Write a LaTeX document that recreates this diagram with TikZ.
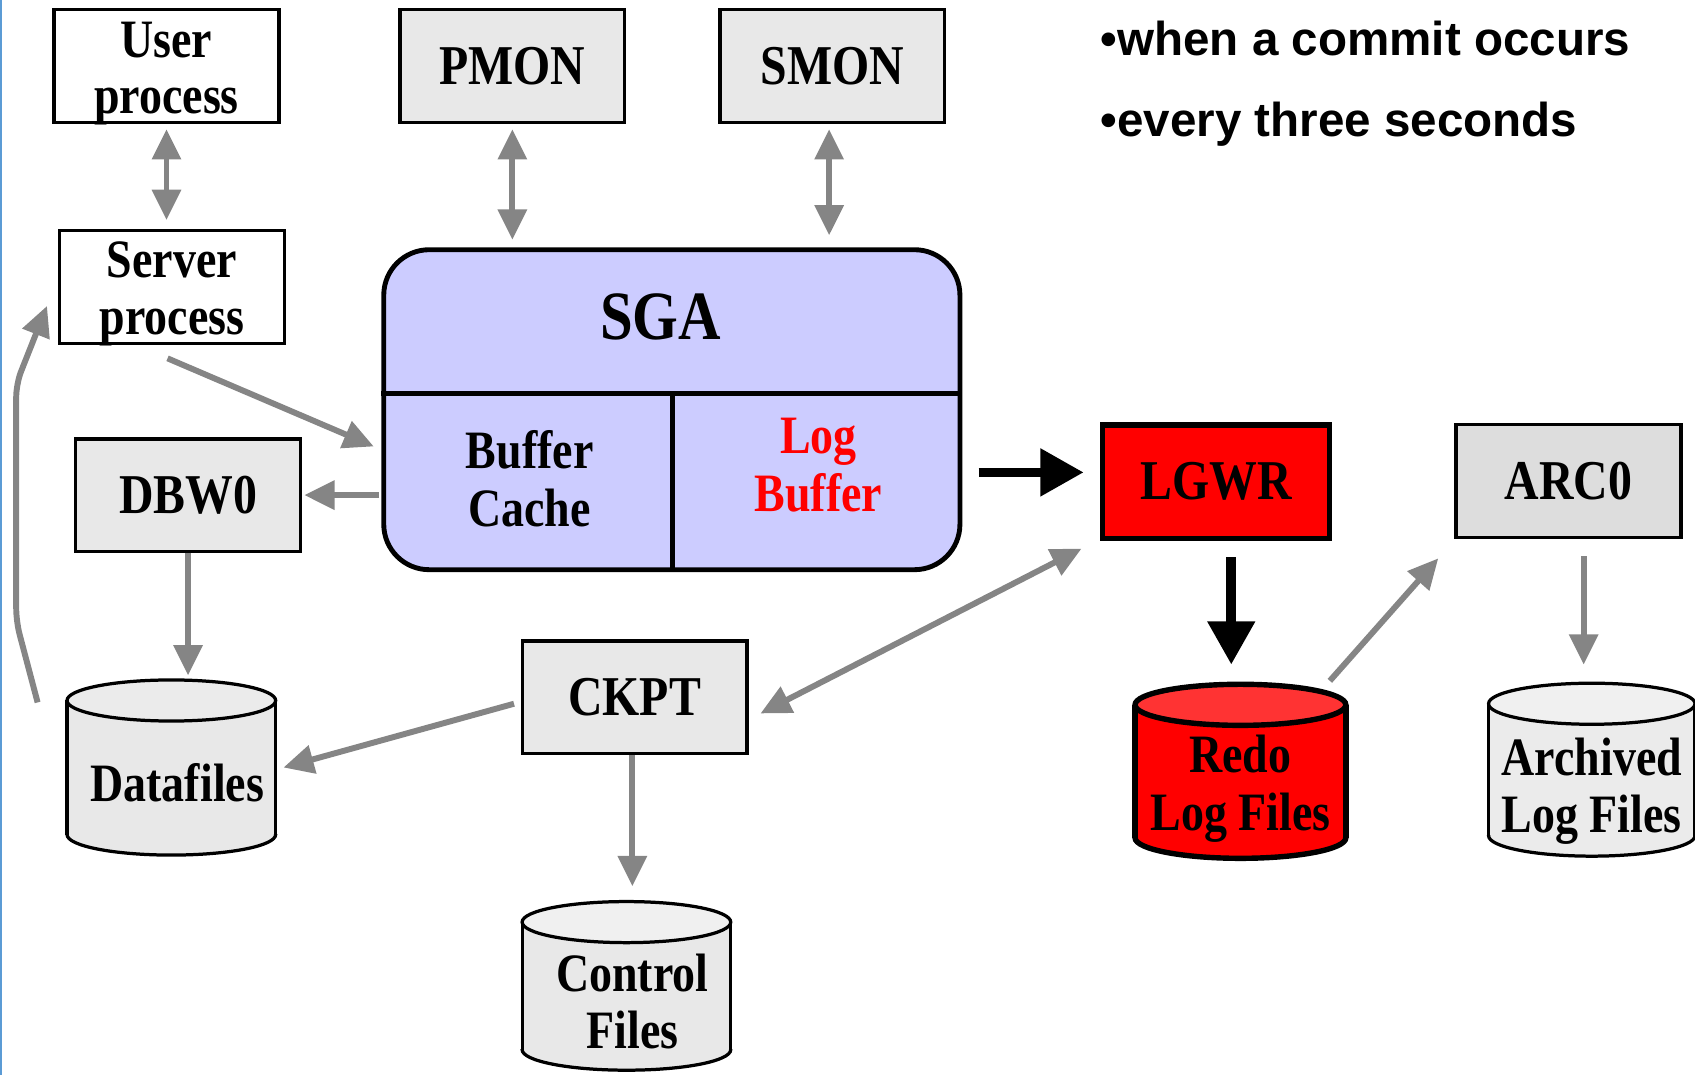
\documentclass[tikz,border=0pt]{standalone}
\usepackage{fontspec}
\newfontfamily\tnr{Liberation Serif}[FakeStretch=0.85]
\newfontfamily\arl{Liberation Sans}
\usetikzlibrary{arrows.meta,calc}
\definecolor{boxgray}{HTML}{E8E8E8}
\definecolor{arcgray}{HTML}{DDDDDD}
\definecolor{sgablue}{HTML}{CCCCFF}
\definecolor{arrgray}{HTML}{858585}
\definecolor{redotop}{HTML}{FF3333}
\definecolor{toplight}{HTML}{F0F0F0}
\definecolor{cylgray}{HTML}{EBEBEB}
\definecolor{edgeblue}{HTML}{5B9BD5}
\newcommand{\vc}[1]{\vtop{\halign{\hfil##\hfil\cr#1\crcr}}}
\newcommand{\vl}[1]{\vtop{\halign{##\hfil\cr#1\crcr}}}
\newcommand{\bdn}[2]{\raisebox{0pt}[#1][0pt]{#2}}
\newcommand{\bupp}[2]{\raisebox{0pt}[0pt][#1]{#2}}
% cx, ytop-center, ybot-center, half width, ry, body fill, top fill, line width
\newcommand{\drawcyl}[8]{%
  \fill[#6] (#1-#4,#2) rectangle (#1+#4,#3);
  \fill[#6] (#1,#3) ellipse [x radius=#4, y radius=#5];
  \begin{scope}
    \clip (#1-#4-10,#3) rectangle (#1+#4+10,#3+#5+10);
    \draw[line width=#8] (#1,#3) ellipse [x radius=#4, y radius=#5];
  \end{scope}
  \draw[line width=#8] (#1-#4,#2) -- (#1-#4,#3) (#1+#4,#2) -- (#1+#4,#3);
  \draw[line width=#8, fill=#7] (#1,#2) ellipse [x radius=#4, y radius=#5];
}
\begin{document}
\begin{tikzpicture}[x=1pt,y=-1pt,
  gbox/.style={draw=black, line width=3pt, fill=boxgray, minimum width=208pt, minimum height=104pt, inner sep=0pt, font=\tnr\bfseries\fontsize{52}{54}\selectfont},
  wbox/.style={gbox, fill=white, font=\tnr\bfseries\fontsize{50}{52}\selectfont},
  lbl/.style={inner sep=0pt, font=\tnr\bfseries\fontsize{50}{54}\selectfont},
  cylnode/.style={inner sep=0pt, font=\tnr\bfseries\fontsize{50}{53}\selectfont},
  garrow/.style={draw=arrgray, line width=5.5pt, -{Triangle[length=28pt,width=26pt]}},
  gdarrow/.style={draw=arrgray, line width=5.5pt, {Triangle[length=28pt,width=26pt]}-{Triangle[length=28pt,width=26pt]}},
  barrow/.style={draw=black, line width=9pt, -{Triangle[length=40pt,width=42pt]}},
]
\useasboundingbox (0,0) rectangle (1568,994);
\draw[edgeblue, line width=2pt] (1,0) -- (1,994);

% process boxes
\node[wbox] (user) at (154,61) {\bupp{16pt}{\vc{User\cr process}}};
\node[gbox] (pmon) at (474,61) {PMON};
\node[gbox] (smon) at (770,61) {SMON};
\node[wbox, minimum height=105pt] (server) at (159,265.5) {\bupp{17pt}{\vc{Server\cr process}}};
\node[gbox] (dbw0) at (174,458) {DBW0};
\node[gbox] (ckpt) at (587,645) {CKPT};
\node[gbox, fill=red, line width=5pt, minimum width=210pt, minimum height=105pt] (lgwr) at (1125,445.5) {LGWR};
\node[gbox, fill=arcgray] (arc0) at (1451,445) {ARC0};

% SGA
\node[draw, line width=4.5pt, fill=sgablue, rounded corners=42pt, minimum width=533pt, minimum height=296pt, inner sep=0pt] (sga) at (621.5,379) {};
\draw[line width=4pt] (sga.west |- 0,364) -- (sga.east |- 0,364);
\draw[line width=4pt] (622,364) -- (sga.south -| 622,0);
\node[lbl, font=\tnr\bfseries\fontsize{64}{66}\selectfont] (sgat) at (611,293) {SGA};
\node[lbl] (bc) at (490,443) {\vc{Buffer\cr Cache}};
\node[lbl, text=red] (lb) at (757,430) {\vc{Log\cr Buffer}};

% cylinders
\drawcyl{158.5}{648}{772}{96.5}{19}{boxgray}{cylgray}{3pt}
\node[cylnode, minimum width=193pt, minimum height=162pt] (df) at (158.5,710) {\hspace{11pt}\bdn{62pt}{Datafiles}};
\drawcyl{579.5}{853}{971}{96.5}{19}{boxgray}{toplight}{3pt}
\node[cylnode, minimum width=193pt, minimum height=156pt] (cf) at (579.5,912) {\hspace{11pt}\bdn{10pt}{\vc{Control\cr Files}}};
\drawcyl{1147.5}{652}{775}{97.5}{19}{red}{redotop}{5pt}
\node[cylnode, minimum width=195pt, minimum height=161pt] (redo) at (1147.5,713.5) {\bdn{3pt}{\vc{Redo\cr Log Files}}};
\drawcyl{1472.5}{651}{773}{95.5}{19}{cylgray}{toplight}{3pt}
\node[cylnode, minimum width=191pt, minimum height=160pt] (arch) at (1472.5,712) {\bdn{10pt}{\vc{Archived\cr Log Files}}};

% notes
\node[anchor=base west, inner sep=0pt, font=\arl\bfseries\fontsize{44}{75}\selectfont] (notes) at (1018,51) {\vl{•when a commit occurs\cr •every three seconds}};

% gray connectors
\draw[gdarrow, shorten <=5pt, shorten >=8pt] (user.south) -- (user.south |- server.north);
\draw[gdarrow, shorten <=5pt, shorten >=7pt] (pmon.south) -- (pmon.south |- sga.north);
\draw[gdarrow, shorten <=5pt, shorten >=11pt] ($(smon.south)+(-3,0)$) -- ($(smon.south |- sga.north)+(-3,0)$);
\draw[garrow] ($(server.south)+(-4,12)$) -- ($(sga.west)+(-7,34)$);
\draw[garrow, shorten >=2pt] ($(dbw0.east -| sga.west)+(-2,0)$) -- (dbw0.east);
\draw[garrow, shorten >=4pt] (dbw0.south) -- (dbw0.south |- df.north);
\draw[garrow] ($(ckpt.west)+(-6,6)$) -- ($(df.east)+(7,0)$);
\draw[gdarrow] ($(lgwr.south west)+(-17,7)$) -- ($(ckpt.east)+(11,15)$);
\draw[garrow, shorten >=14pt] ($(ckpt.south)+(-2,0)$) -- ($(ckpt.south |- cf.north)+(-2,0)$);
\draw[garrow] ($(redo.north east)+(-15,-3)$) -- ($(arc0.south west)+(-15,18)$);
\draw[garrow] ($(arc0.south)+(14,16)$) -- ($(arch.north)+(-7.5,-17)$);
\draw[garrow, rounded corners=12pt] ($(df.north west)+(-27,21)$) -- (15,575) -- (15,355) -- ($(server.west)+(-10,17.5)$);

% black connectors
\draw[barrow] ($(sga.east)+(15,58)$) -- ($(lgwr.west)+(-15,-8.5)$);
\draw[barrow] ($(lgwr.south)+(14,15)$) -- ($(redo.north)+(-8.5,-18)$);
\end{tikzpicture}
\end{document}
